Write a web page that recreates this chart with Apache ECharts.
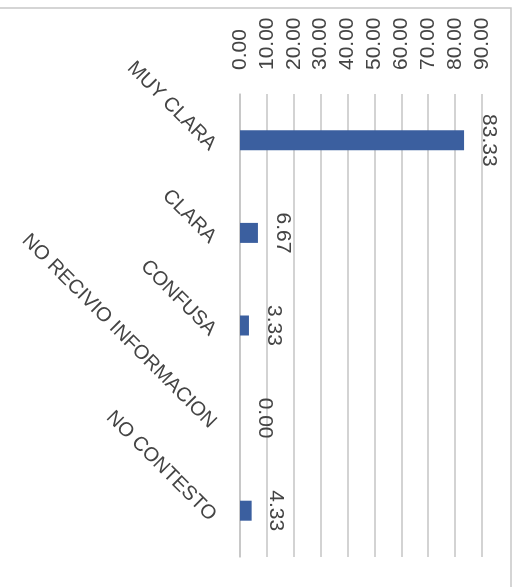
<!DOCTYPE html>
<html>
<head>
<meta charset="utf-8">
<script src="https://cdn.jsdelivr.net/npm/echarts@6/dist/echarts.min.js"></script>
<style>
html,body{margin:0;padding:0;background:#fff;}
#chart{width:519px;height:587px;}
</style>
</head>
<body>
<div id="chart"></div>
<script>
const categories = ["MUY CLARA", "CLARA", "CONFUSA", "NO RECIVIO INFORMACION", "NO CONTESTO"];
const values = [83.33, 6.67, 3.33, 0.00, 4.33];
const axisMin = 0, axisMax = 90, axisStep = 10;

const chart = echarts.init(document.getElementById('chart'), null, {renderer: 'canvas'});
const font = 'Liberation Sans';
chart.setOption({
  animation: false,
  backgroundColor: '#ffffff',
  graphic: [{
    type: 'rect', shape: {x: -10, y: 8, width: 521, height: 600},
    style: {fill: 'none', stroke: '#c8c8c8', lineWidth: 1.5}, silent: true
  }],
  grid: {left: 240, right: 37, top: 94, bottom: 30, containLabel: false},
  xAxis: {
    type: 'value', position: 'top', min: axisMin, max: axisMax, interval: axisStep,
    axisLine: {show: false}, axisTick: {show: false},
    splitLine: {show: true, lineStyle: {color: '#c4c4c4', width: 1.5}},
    axisLabel: {
      rotate: -90, margin: 24, color: '#444', fontFamily: font, fontSize: 21,
      formatter: v => v.toFixed(2)
    }
  },
  yAxis: {
    type: 'category', data: categories, inverse: true,
    axisLine: {show: true, lineStyle: {color: '#c4c4c4', width: 1.5}},
    axisTick: {show: false},
    axisLabel: {
      rotate: -45, margin: 20, color: '#444', fontFamily: font, fontSize: 20,
      verticalAlign: 'top', interval: 0
    }
  },
  series: [{
    type: 'bar', data: values, barWidth: 20,
    itemStyle: {color: '#3b5f9f'},
    label: {
      show: true, position: 'right', distance: 14, rotate: -90,
      align: 'center', verticalAlign: 'bottom',
      color: '#444', fontFamily: font, fontSize: 21,
      formatter: p => p.value.toFixed(2)
    }
  }]
});
</script>
</body>
</html>
